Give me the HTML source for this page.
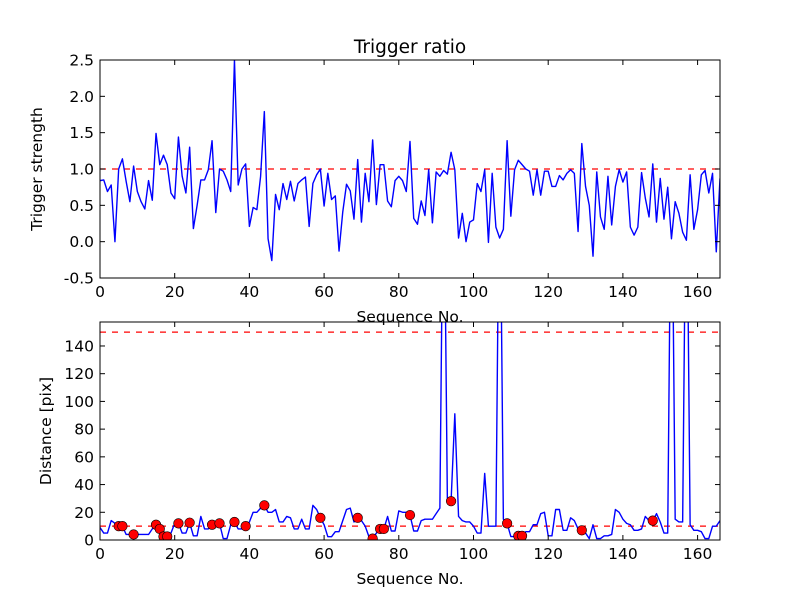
<!DOCTYPE html>
<html><head><meta charset="utf-8"><style>
body{margin:0;background:#fff;}
svg{display:block;font-family:"DejaVu Sans","Liberation Sans",sans-serif;}
</style></head><body>
<svg id="chart" width="800" height="600" viewBox="0 0 800 600">
<rect width="800" height="600" fill="#fff"/>
</svg>
<script>
const strength = [0.84,0.85,0.69,0.78,0.0,1.0,1.14,0.83,0.55,1.04,0.69,0.55,0.45,0.84,0.57,1.49,1.06,1.19,1.06,0.67,0.59,1.44,0.9,0.67,1.3,0.18,0.5,0.85,0.85,0.99,1.39,0.4,1.0,0.97,0.85,0.69,2.5,0.78,1.0,1.07,0.21,0.47,0.44,0.9,1.79,0.04,-0.26,0.65,0.44,0.8,0.58,0.83,0.56,0.8,0.85,0.89,0.21,0.8,0.92,1.0,0.49,0.94,0.58,0.63,-0.13,0.41,0.79,0.7,0.31,1.13,0.27,0.94,0.55,1.4,0.51,1.06,1.06,0.56,0.48,0.84,0.9,0.84,0.69,1.38,0.32,0.24,0.56,0.36,0.99,0.26,0.96,0.9,0.98,0.93,1.23,0.99,0.05,0.39,0.0,0.27,0.3,0.8,0.69,0.99,-0.01,0.94,0.2,0.05,0.17,1.39,0.35,0.99,1.12,1.06,1.0,0.97,0.64,0.99,0.64,0.97,0.97,0.76,0.76,0.91,0.85,0.94,0.99,0.94,0.14,1.35,0.76,0.5,-0.2,0.96,0.34,0.17,0.9,0.23,0.76,0.99,0.82,0.96,0.2,0.09,0.2,0.95,0.6,0.34,1.07,0.27,0.87,0.31,0.75,0.04,0.55,0.39,0.13,0.02,0.92,0.17,0.44,0.92,0.98,0.67,0.94,-0.14,0.87];
const distance = [9,5,5,14,12,10,10,4,4,4,4,4,4,4,8,11,8,2.5,2.5,5,12,12,5,5,12.5,3,3,17,8,8,11,12,12,1,1,11,13,8,8,10,13,20,20,23,25,20,20,22,13,13,17,16,8,8,15,8,8,25,22,16,11,2.4,2.4,6,6,14,22,23,13,16,14,10,2.4,1,5,8,8,17,6.5,6.5,21,20,20,18,6.5,6.5,14,15,15,15,19,23,300,30,28,91,17,14,13,13,10,5,5,48,10,10,10,300,15,12,2.5,2.5,3,3,6,6,11,11,19,20,3,3,22,22,7,7,16,14,8,7,5,1,11,1,1,3,3,4,22,20,15,12,11,7,7,8,17,14,14,19,13,5,5,300,15,13,13,300,11,7,7,6,1,1,10,10,14];
const markerIdx = [5,6,9,15,16,17,18,21,24,30,32,36,39,44,59,69,73,75,76,83,94,109,112,113,129,148];
const xTicks = [0,20,40,60,80,100,120,140,160];
const yTicksTop = [-0.5,0.0,0.5,1.0,1.5,2.0,2.5];
const yTicksBot = [0,20,40,60,80,100,120,140];
const topThreshold = [1.0];
const botThresholds = [10,150];

const NS="http://www.w3.org/2000/svg";
const svg=document.getElementById('chart');
function mk(tag,attrs,parent){const e=document.createElementNS(NS,tag);for(const k in attrs)e.setAttribute(k,attrs[k]);(parent||svg).appendChild(e);return e;}

function panel(name,box,xmax,ymin,ymax,yTicks,yFmt,ylabel,thresholds,data,markers){
  const X=v=>box.x+(v/xmax)*box.w;
  const Y=v=>box.y+box.h-(v-ymin)/(ymax-ymin)*box.h;
  const g=mk('g',{});
  
  
  const cid='clip-'+name;
  const cp=mk('clipPath',{id:cid},g);mk('rect',{x:box.x,y:box.y,width:box.w,height:box.h},cp);
  const plot=mk('g',{'clip-path':'url(#'+cid+')'},g);
  thresholds.forEach(t=>{
    const l=mk('line',{x1:box.x,x2:box.x+box.w,y1:Y(t),y2:Y(t),stroke:'#ff0000','stroke-width':1.3,'stroke-dasharray':'6,6'},plot);
    
    
  });
  const d=data.map((v,i)=>(i?'L':'M')+X(i).toFixed(2)+','+Y(v).toFixed(2)).join('');
  const p=mk('path',{d:d,fill:'none',stroke:'#0000ff','stroke-width':1.4,'stroke-linejoin':'round'},plot);
  
  
  (markers||[]).forEach(i=>{
    const c=mk('circle',{cx:X(i),cy:Y(data[i]),r:4.8,fill:'#ff0000',stroke:'#000','stroke-width':0.6},plot);
    
    
  });
  const fr=mk('rect',{x:box.x,y:box.y,width:box.w,height:box.h,fill:'none',stroke:'#000','stroke-width':1},g);
  
  
  xTicks.forEach(t=>{
    const x=X(t);
    mk('line',{x1:x,x2:x,y1:box.y+box.h,y2:box.y+box.h-5,stroke:'#000'},g);
    mk('line',{x1:x,x2:x,y1:box.y,y2:box.y+5,stroke:'#000'},g);
    const tx=mk('text',{x:x,y:box.y+box.h+19,'text-anchor':'middle','font-size':'15.5'},g);
    tx.textContent=t;
    
    
  });
  yTicks.forEach(t=>{
    const y=Y(t);
    mk('line',{x1:box.x,x2:box.x+5,y1:y,y2:y,stroke:'#000'},g);
    mk('line',{x1:box.x+box.w,x2:box.x+box.w-5,y1:y,y2:y,stroke:'#000'},g);
    const tx=mk('text',{x:box.x-6,y:y+5.5,'text-anchor':'end','font-size':'15.5'},g);
    tx.textContent=yFmt(t);
    
    
  });
  const xl=mk('text',{x:box.x+box.w/2,y:box.y+box.h+44,'text-anchor':'middle','font-size':'15.5'},g);
  xl.textContent='Sequence No.';
  
  
  const yl=mk('text',{transform:'translate('+ylabel.x+','+(box.y+box.h/2)+') rotate(-90)','text-anchor':'middle','font-size':'15.5'},g);
  yl.textContent=ylabel.t;
  
  
}
panel('trigger-strength-panel',{x:100,y:60,w:620,h:218},166,-0.5,2.5,yTicksTop,v=>v.toFixed(1),{x:42,t:'Trigger strength'},topThreshold,strength,null);
panel('distance-panel',{x:100,y:322,w:620,h:218},166,0,157.3,yTicksBot,v=>String(v),{x:51,t:'Distance [pix]'},botThresholds,distance,markerIdx);
const title=mk('text',{x:410,y:53,'text-anchor':'middle','font-size':'18.5'});
title.textContent='Trigger ratio';


</script>
</body></html>
